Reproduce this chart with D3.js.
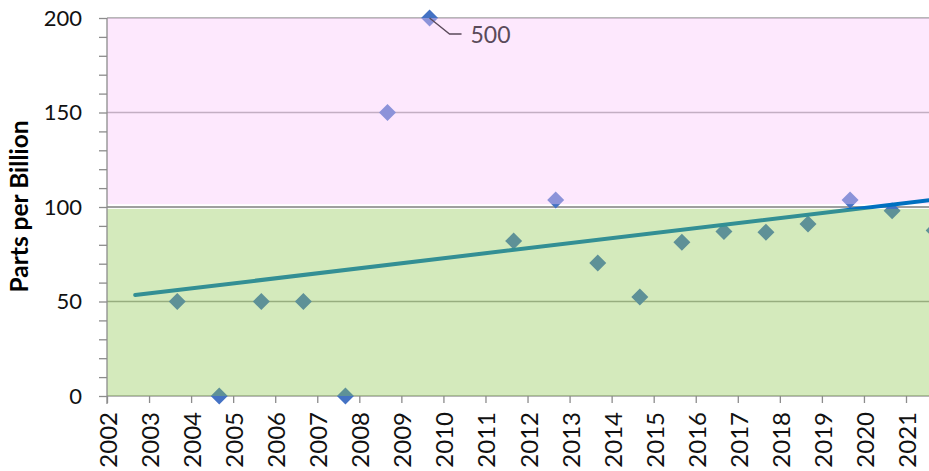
<!DOCTYPE html>
<html><head><meta charset="utf-8">
<script src="https://cdn.jsdelivr.net/npm/d3@7"></script>
<style>html,body{margin:0;padding:0;background:#fff;overflow:hidden}</style>
</head><body><svg id="c" width="929" height="471"></svg>
<script>
// ---- data ----
const tickYears = ["2002","2003","2004","2005","2006","2007","2008","2009","2010","2011","2012","2013","2014","2015","2016","2017","2018","2019","2020","2021"];
const sampleDates = [2003.67,2004.67,2005.67,2006.67,2007.67,2008.67,2009.67,2011.67,2012.67,2013.67,2014.67,2015.67,2016.67,2017.67,2018.67,2019.67,2020.67,2021.67];
const sampleValues = [50,0,50,50,0,150,500,82,103.7,70.4,52.4,81.3,87,86.7,91,103.7,98,87.6];
const trendDates = [2002.67, 2021.67];
const trendValues = [53.4, 103.9];
const pinkBand = [101.5, 200];
const greenBand = [0, 99];
const yTicks = [0,50,100,150,200];
const yMinorTicks = d3.range(0, 201, 10);
const calloutText = "500";

// ---- layout ----
const svg = d3.select("#c");
const W = 929, H = 471;
const pL = 107, pT = 18, pB = 396, pR = W;
const x = d3.scaleLinear().domain([2002, 2021]).range([pL, 906]);
const y = d3.scaleLinear().domain([0, 200]).range([pB, pT]);

const diamond = (r) => `M0,${-r}L${r},0L0,${r}L${-r},0Z`;

// gridlines (under overlays)
svg.append("g").selectAll("line").data(yTicks).join("line")
  .attr("x1", pL).attr("x2", pR)
  .attr("y1", d => y(d)).attr("y2", d => y(d))
  .attr("stroke", "#9f9f9f").attr("stroke-width", d => d === 100 ? 2 : 1.3);

// markers
svg.append("g").selectAll("path").data(sampleDates.map((d,i)=>[d, sampleValues[i]])).join("path")
  .attr("d", diamond(8.5))
  .attr("transform", d => `translate(${x(d[0])},${y(Math.min(d[1], 200))})`)
  .attr("fill", "#4472C4");

// pink overlay
svg.append("rect")
  .attr("x", pL).attr("width", pR - pL)
  .attr("y", y(pinkBand[1])).attr("height", y(pinkBand[0]) - y(pinkBand[1]))
  .attr("fill", "rgb(250,197,250)").attr("fill-opacity", 0.4);

// trend line
svg.append("path")
  .datum(trendDates.map((d,i)=>[d, trendValues[i]]))
  .attr("d", d3.line().x(d => x(d[0])).y(d => y(d[1])))
  .attr("fill", "none").attr("stroke", "#0070C0").attr("stroke-width", 4)
  .attr("stroke-linecap", "round");

// green overlay
svg.append("rect")
  .attr("x", pL).attr("width", pR - pL)
  .attr("y", y(greenBand[1])).attr("height", y(greenBand[0]) - y(greenBand[1]))
  .attr("fill", "rgb(139,198,74)").attr("fill-opacity", 0.37);

// y axis
const yAxis = d3.axisLeft(y).tickValues(yMinorTicks).tickSize(8)
  .tickFormat(d => yTicks.includes(d) ? d : "");
const ya = svg.append("g").attr("transform", `translate(${pL},0)`).call(yAxis);
ya.select(".domain").remove();
ya.selectAll(".tick line").attr("stroke", "#8c8c8c").attr("stroke-width", 1.3);
ya.selectAll(".tick text").attr("font-family", "Lato").attr("font-size", 22)
  .attr("fill", "#111").attr("x", -25);
svg.append("line").attr("x1", pL).attr("x2", pL).attr("y1", pT).attr("y2", pB + 8)
  .attr("stroke", "#8c8c8c").attr("stroke-width", 1.3);

// x axis
const xAxis = d3.axisBottom(x).tickValues(tickYears.map(Number)).tickSize(7)
  .tickFormat((d,i) => tickYears[i]);
const xa = svg.append("g").attr("transform", `translate(0,${pB})`).call(xAxis);
xa.select(".domain").remove();
xa.selectAll(".tick line").attr("stroke", "#8c8c8c").attr("stroke-width", 1.3);
xa.selectAll(".tick text").attr("font-family", "Lato").attr("font-size", 24).attr("fill", "#111")
  .attr("text-anchor", "end").attr("dy", null).attr("y", 0)
  .attr("dominant-baseline", "central")
  .attr("transform", "translate(0,16) rotate(-90)");

// y axis title
svg.append("text").attr("transform", `translate(28,206.5) rotate(-90)`)
  .attr("text-anchor", "middle").attr("font-family", "Lato").attr("font-weight", "bold")
  .attr("font-size", 24.5).attr("fill", "#000").text("Parts per Billion");

// callout for clipped point
const ci = sampleValues.indexOf(500);
const cx = x(sampleDates[ci]), cy = y(200);
svg.append("path").attr("d", `M${cx},${cy}L${cx+20},${cy+16}L${cx+32},${cy+16}`)
  .attr("fill", "none").attr("stroke", "#5a4a5a").attr("stroke-width", 1.3);
svg.append("text").attr("x", cx + 41).attr("y", cy + 16).attr("dominant-baseline", "central")
  .attr("font-family", "Lato").attr("font-size", 23).attr("fill", "#5a4a5a").text(calloutText);
</script></body></html>
